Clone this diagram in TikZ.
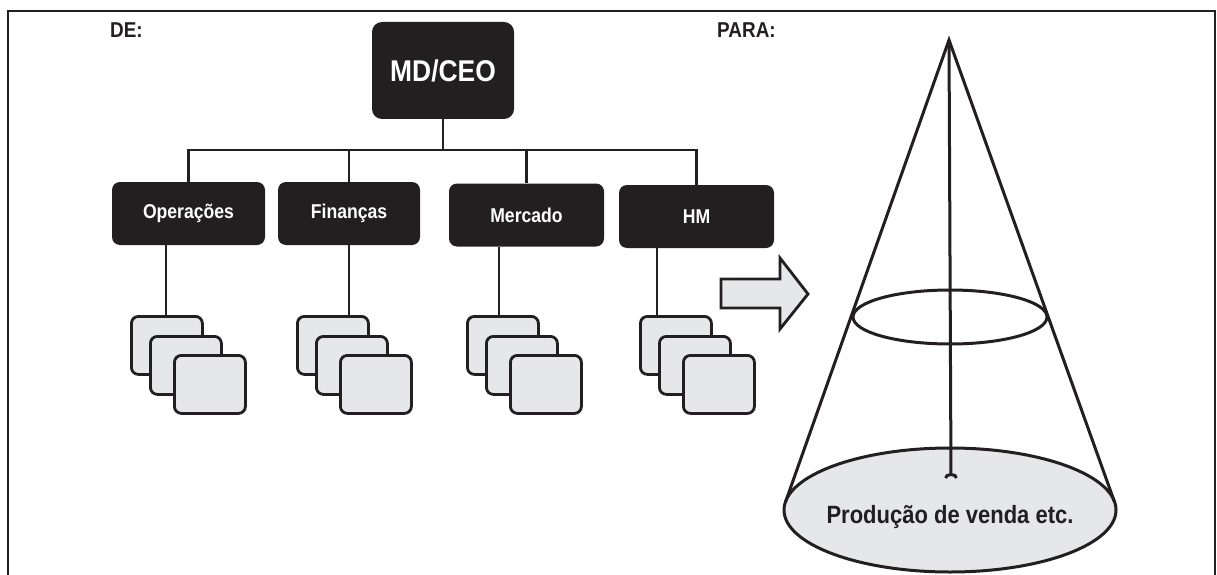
\documentclass[tikz,border=0pt]{standalone}
\usepackage{fontspec}
\newfontfamily\cf[FakeStretch=0.88]{Liberation Sans}
\usetikzlibrary{shapes.geometric,arrows.meta}
\definecolor{ink}{HTML}{231F20}
\definecolor{paper}{HTML}{E6E7E8}
\tikzset{
  chief/.style={fill=ink, rounded corners=10pt, minimum width=142pt, minimum height=97pt,
    text=white, font=\cf\bfseries\fontsize{30}{34}\selectfont, inner sep=0pt},
  dept/.style={fill=ink, rounded corners=8pt, minimum height=63pt,
    text=white, font=\cf\bfseries\fontsize{20}{24}\selectfont, inner sep=0pt},
  card/.style={draw=ink, fill=paper, line width=2.8pt, rounded corners=7pt,
    minimum width=71pt, minimum height=58pt, anchor=north west, inner sep=0pt},
  wire/.style={draw=ink, line width=2.6pt},
  conel/.style={draw=ink, line width=3pt},
  head/.style={font=\cf\bfseries\fontsize{21.5}{24}\selectfont, text=ink, anchor=north west, inner sep=0pt}
}
\begin{document}
\begin{tikzpicture}[x=1pt,y=-1pt]
\useasboundingbox (0,0) rectangle (1217,575);
% outer frame
\draw[ink, line width=2.6pt] (8,575) -- (8,11) -- (1215,11) -- (1215,575);

% headings
\node[head] (de) at (110,23) {DE:};
\node[head] (para) at (717,23) {PARA:};

% organisation chart
\node[chief] (ceo) at (443,70.5) {MD/CEO};
\node[dept, minimum width=153pt] (ops) at (188.5,213.5) {Operações};
\node[dept, minimum width=142pt] (fin) at (349,213.5) {Finanças};
\node[dept, minimum width=155pt] (mer) at (526.5,215) {Mercado};
\node[dept, minimum width=155pt] (hm)  at (696.5,216.5) {HM};

\coordinate (bus) at (0,150);
\draw[wire] (ceo.south) -- (ceo.south |- bus);
\draw[wire] (ops.north) -- (ops.north |- bus) -| (hm.north);
\draw[wire] (fin.north) -- (fin.north |- bus);
\draw[wire] (mer.north) -- (mer.north |- bus);

% stacks of unit cards under each department
\foreach \n/\x in {a/129, b/295, c/465, d/638}{
  \node[card] (\n1) at (\x+1,315) {};
  \node[card] (\n2) at (\x+20,335) {};
  \node[card] (\n3) at (\x+44,354) {};
}
\coordinate (ta) at (166,0);
\coordinate (tb) at (349,0);
\coordinate (tc) at (499,0);
\coordinate (td) at (657,0);
\draw[wire] (ops.south -| ta) -- (a1.north -| ta);
\draw[wire] (fin.south -| tb) -- (b1.north -| tb);
\draw[wire] (mer.south -| tc) -- (c1.north -| tc);
\draw[wire] (hm.south -| td)  -- (d1.north -| td);

% block arrow
\draw[draw=ink, fill=paper, line width=2.8pt, line join=miter]
  (721,279) -- (780,279) -- (780,258) -- (808,294) -- (780,329) -- (780,308) -- (721,308) -- cycle;

% cone
\coordinate (apex) at (949,40);
\node[ellipse, draw=ink, fill=paper, line width=3pt, minimum width=332pt, minimum height=124pt, inner sep=0pt] (base) at (950,510) {};
\coordinate (bl) at (785.5,502);
\coordinate (br) at (1114.5,502);
\draw[conel, line join=miter] (bl) -- (apex) -- (br);
\node[ellipse, draw=ink, line width=3pt, minimum width=194pt, minimum height=54pt, inner sep=0pt] (mid) at (950,317) {};
\coordinate (foot) at (951,478);
\draw[conel, -{Arc Barb[reversed, length=5pt, width=14pt]}] (apex) -- (foot);
\node[font=\cf\bfseries\fontsize{25}{28}\selectfont, text=ink, inner sep=0pt] (lbl) at (950,517) {Produção de venda etc.};
\end{tikzpicture}
\end{document}
